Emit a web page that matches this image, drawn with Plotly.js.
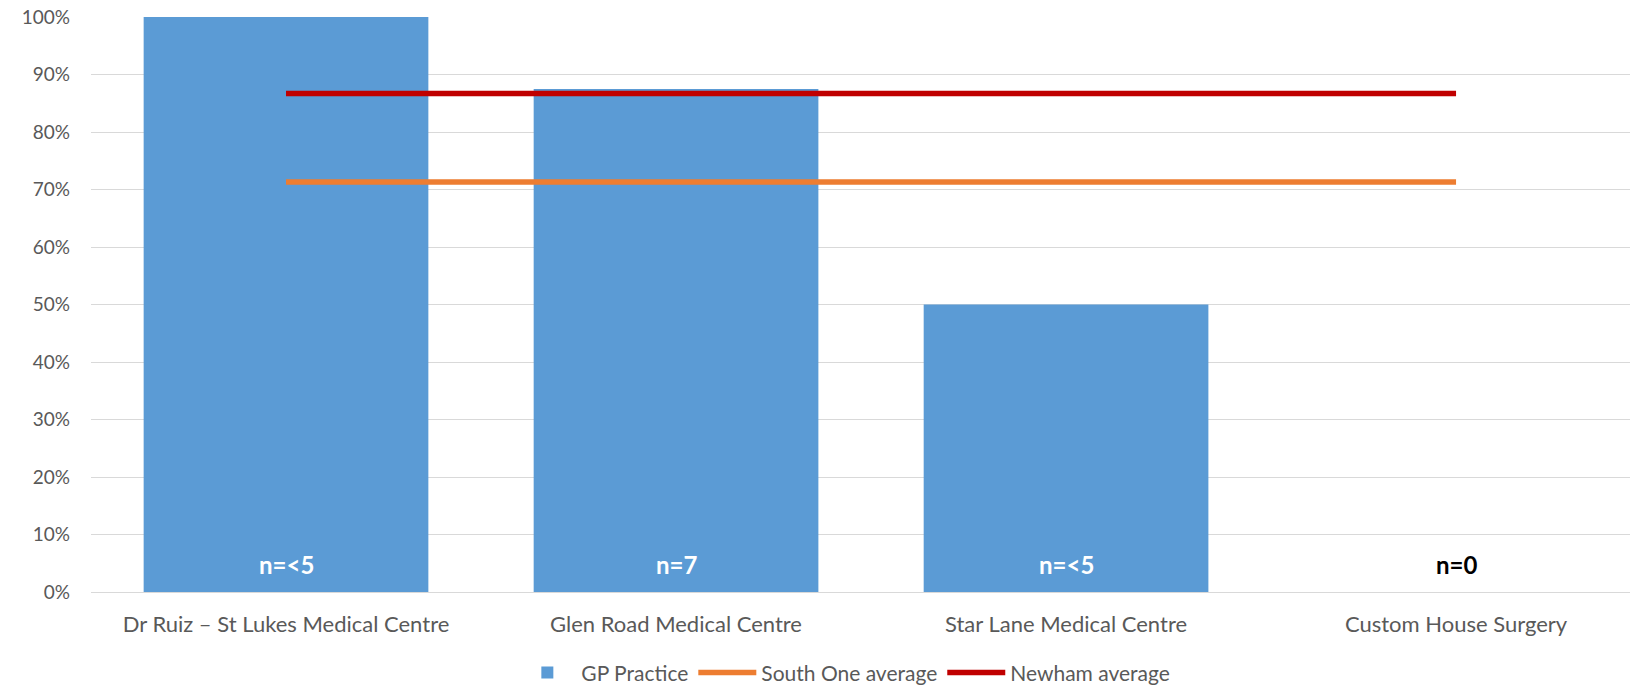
<!DOCTYPE html>
<html>
<head>
<meta charset="utf-8">
<script src="https://cdn.plot.ly/plotly-3.0.1.min.js"></script>
<style>html,body{margin:0;padding:0;background:#fff;}#chart{width:1630px;height:688px;}</style>
</head>
<body>
<div id="chart"></div>
<script>
const categories = ["Dr Ruiz \u2013 St Lukes Medical Centre", "Glen Road Medical Centre", "Star Lane Medical Centre", "Custom House Surgery"];
const gpPractice = [1.00, 0.875, 0.50, null];
const southOneAverage = [0.713, 0.713, 0.713, 0.713];
const newhamAverage = [0.867, 0.867, 0.867, 0.867];
const nLabels = ["n=<5", "n=7", "n=<5", "n=0"];
const nLabelColors = ["#ffffff", "#ffffff", "#ffffff", "#000000"];
const yTicks = [0, 0.1, 0.2, 0.3, 0.4, 0.5, 0.6, 0.7, 0.8, 0.9, 1.0];

const fontFam = "Lato, 'Open Sans', sans-serif";
const traces = [
  {type: "bar", name: "GP Practice", x: categories, y: gpPractice, marker: {color: "#5b9bd5"}, hoverinfo: "none"},
  {type: "scatter", mode: "lines", name: "South One average", x: categories, y: southOneAverage, line: {color: "#ed7d31", width: 5.5}, hoverinfo: "none"},
  {type: "scatter", mode: "lines", name: "Newham average", x: categories, y: newhamAverage, line: {color: "#c00000", width: 5.5}, hoverinfo: "none"}
];

const annotations = categories.map((c, i) => ({
  x: c, y: 0.048, xref: "x", yref: "y", yanchor: "middle",
  text: "<b>" + nLabels[i].replace("<", "&lt;") + "</b>", showarrow: false,
  font: {family: fontFam, size: 24, color: nLabelColors[i]}
}));

const layout = {
  width: 1630, height: 688,
  margin: {l: 91, r: 0, t: 17, b: 96},
  paper_bgcolor: "#ffffff", plot_bgcolor: "#ffffff",
  bargap: 0.27,
  showlegend: true,
  legend: {orientation: "h", xref: "container", yref: "container", x: 0.518, xanchor: "center", y: 0.022, yanchor: "middle",
           font: {family: fontFam, size: 21, color: "#595959"}, traceorder: "normal", itemwidth: 58},
  xaxis: {type: "category", range: [-0.5, 3.446], showgrid: false, zeroline: false, showline: false, automargin: false,
          ticks: "", tickfont: {family: fontFam, size: 22, color: "#595959"}, ticklabelstandoff: 17, fixedrange: true},
  yaxis: {range: [0, 1], tickvals: yTicks, tickformat: ".0%", showgrid: true, gridcolor: "#d9d9d9", gridwidth: 1, automargin: false,
          zeroline: true, zerolinecolor: "#d9d9d9", zerolinewidth: 1, showline: false, ticks: "",
          tickfont: {family: fontFam, size: 19, color: "#595959"}, ticklabelstandoff: 20, fixedrange: true},
  annotations: annotations,
  font: {family: fontFam}
};

Plotly.newPlot("chart", traces, layout, {staticPlot: true, displayModeBar: false});
</script>
</body>
</html>
